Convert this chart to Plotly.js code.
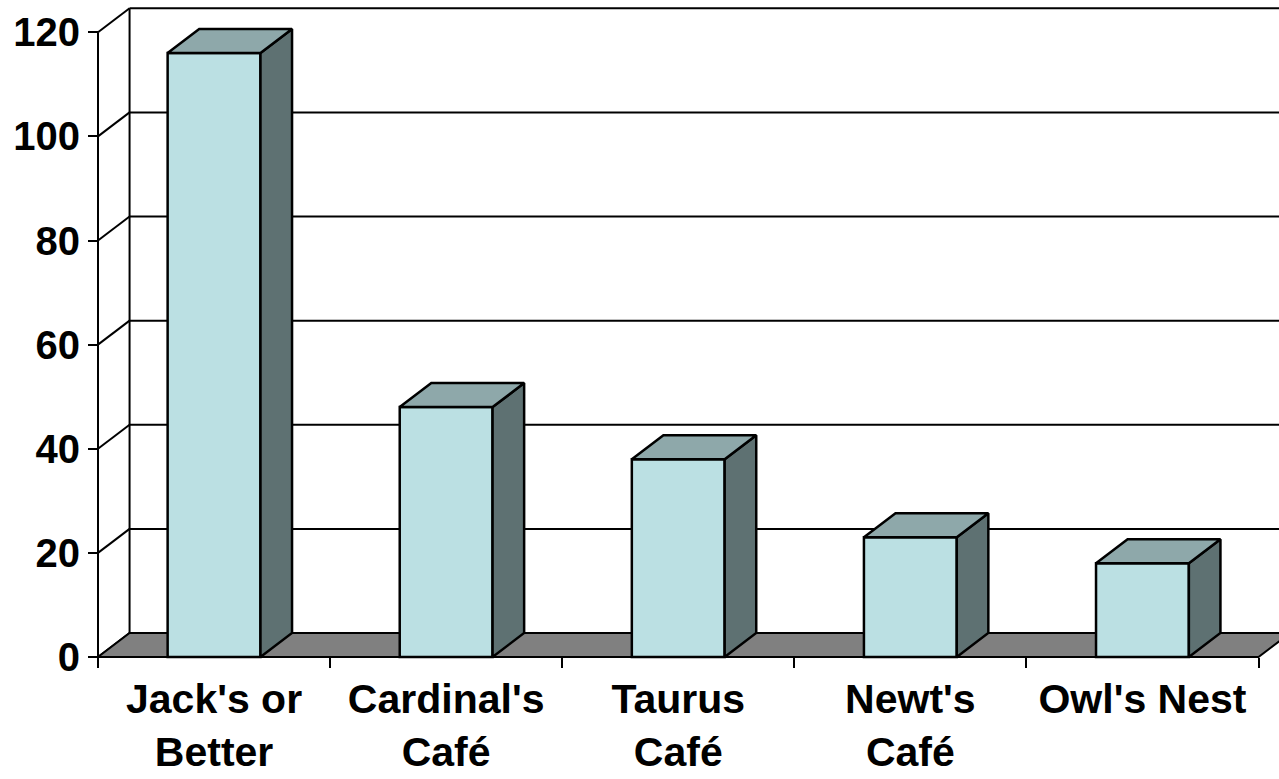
<!DOCTYPE html>
<html><head><meta charset="utf-8">
<script src="https://cdn.plot.ly/plotly-3.0.1.min.js"></script>
<style>html,body{margin:0;padding:0;background:#fff;}#chart{width:1279px;height:779px;}</style>
</head><body><div id="chart"></div>
<script>
// ---- data ----
const categories = ["Jack's or<br>Better", "Cardinal's<br>Café", "Taurus<br>Café", "Newt's<br>Café", "Owl's Nest"];
const values = [116, 48, 38, 23, 18];
const yTicks = [0, 20, 40, 60, 80, 100, 120];

// ---- geometry (in axis units) ----
const W = 0.4, DX = 0.136, DY = 4.61;
const n = categories.length;
const X0 = -0.5, X1 = n - 0.5;
const yTop = yTicks[yTicks.length - 1];
const catIdx = categories.map((_, i) => i);
const bounds = []; for (let i = 0; i <= n; i++) bounds.push(i - 0.5);

const PXX = 232.1, PXY = 5.206;
const L = 90, PW = 1279 - L, PH = 672;

const BL = {color: '#000', width: 2};
const traces = [];
// back wall gridlines + left wall diagonals + back wall left edge + front value axis
const gx = [], gy = [];
yTicks.forEach(t => { gx.push(X0 + DX, X1 + DX, null); gy.push(t + DY, t + DY, null); });
yTicks.forEach(t => { gx.push(X0, X0 + DX, null); gy.push(t, t + DY, null); });
gx.push(X0 + DX, X0 + DX, null); gy.push(DY, yTop + DY, null);
gx.push(X0, X0); gy.push(0, yTop);
traces.push({type: 'scatter', mode: 'lines', x: gx, y: gy, line: BL, hoverinfo: 'skip', showlegend: false, zorder: 0});
// floor
traces.push({type: 'scatter', mode: 'lines', x: [X0, X1, X1 + DX, X0 + DX, X0], y: [0, 0, DY, DY, 0],
  fill: 'toself', fillcolor: '#808080', line: BL, hoverinfo: 'skip', showlegend: false, zorder: 0});
// front faces
traces.push({type: 'bar', x: catIdx, y: values, width: W, base: 0,
  marker: {color: '#BBE0E3', line: {color: '#000', width: 2.5}}, hoverinfo: 'skip', showlegend: false, zorder: 1});
// side & top faces
catIdx.forEach((i) => {
  const v = values[i], l = i - W / 2, r = i + W / 2;
  traces.push({type: 'scatter', mode: 'lines', x: [r, r + DX, r + DX, r, r], y: [0, DY, v + DY, v, 0],
    fill: 'toself', fillcolor: '#5E7172', line: {color: '#000', width: 2.5}, hoverinfo: 'skip', showlegend: false, zorder: 2});
  traces.push({type: 'scatter', mode: 'lines', x: [l, r, r + DX, l + DX, l], y: [v, v, v + DY, v + DY, v],
    fill: 'toself', fillcolor: '#8EA8AA', line: {color: '#000', width: 2.5}, hoverinfo: 'skip', showlegend: false, zorder: 2});
});

const FONT = 'Liberation Sans, Arial, sans-serif';
const layout = {
  width: 1279, height: 779,
  margin: {l: L, r: 0, t: 0, b: 779 - PH},
  paper_bgcolor: '#fff', plot_bgcolor: '#fff',
  showlegend: false,
  xaxis: {
    range: [X0 - 8 / PXX, X0 - 8 / PXX + PW / PXX],
    tickmode: 'array', tickvals: catIdx, ticktext: categories, ticks: '',
    minor: {tickmode: 'array', tickvals: bounds, ticks: 'outside', ticklen: 10, tickwidth: 2, tickcolor: '#000', showgrid: false},
    showgrid: false, zeroline: false, showline: false,
    anchor: 'free', position: (PH - 657) / PH,
    tickfont: {family: FONT, size: 41, color: '#000', weight: 700},
    ticklabelstandoff: 14
  },
  yaxis: {
    range: [-(PH - 657) / PXY, 657 / PXY],
    tickmode: 'array', tickvals: yTicks, ticks: 'outside', ticklen: 10, tickwidth: 2, tickcolor: '#000',
    showgrid: false, zeroline: false, showline: false,
    anchor: 'free', position: 8 / PW,
    tickfont: {family: FONT, size: 40, color: '#000', weight: 700}
  }
};
Plotly.newPlot('chart', traces, layout, {staticPlot: true, displayModeBar: false});
</script>
</body></html>
